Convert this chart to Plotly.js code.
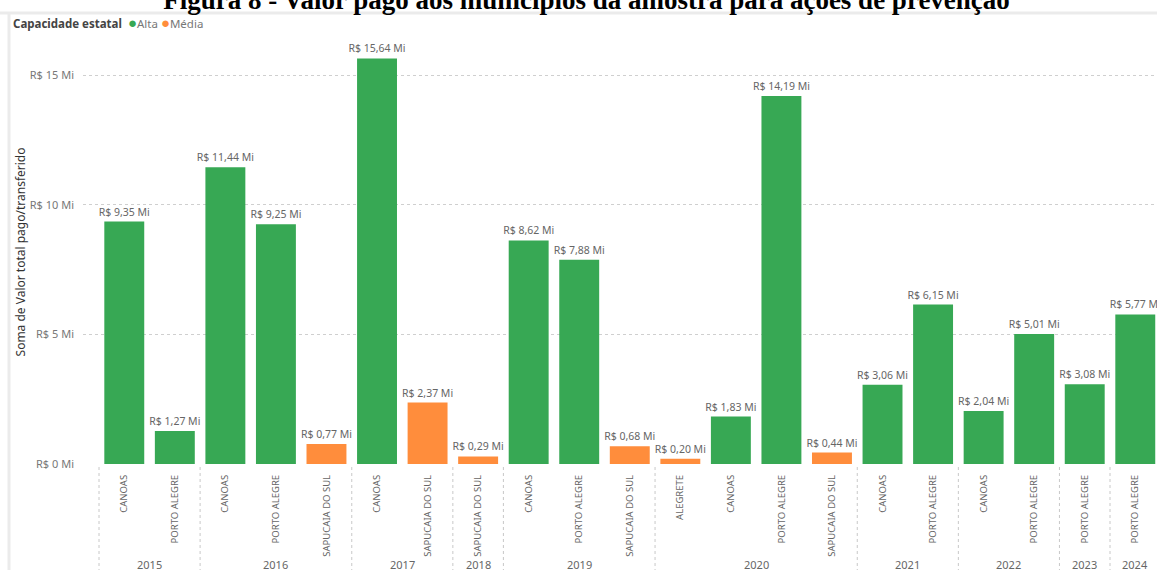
<!DOCTYPE html>
<html>
<head>
<meta charset="utf-8">
<script src="https://cdn.plot.ly/plotly-3.0.1.min.js"></script>
<style>
html,body{margin:0;padding:0;background:#fff;}
#chart{width:1157px;height:570px;}
</style>
</head>
<body>
<div id="chart"></div>
<script>
// ---- data ----
const years = ["2015","2015","2016","2016","2016","2017","2017","2018","2019","2019","2019","2020","2020","2020","2020","2021","2021","2022","2022","2023","2024"];
const cities = ["CANOAS","PORTO ALEGRE","CANOAS","PORTO ALEGRE","SAPUCAIA DO SUL","CANOAS","SAPUCAIA DO SUL","SAPUCAIA DO SUL","CANOAS","PORTO ALEGRE","SAPUCAIA DO SUL","ALEGRETE","CANOAS","PORTO ALEGRE","SAPUCAIA DO SUL","CANOAS","PORTO ALEGRE","CANOAS","PORTO ALEGRE","PORTO ALEGRE","PORTO ALEGRE"];
const values = [9.35,1.27,11.44,9.25,0.77,15.64,2.37,0.29,8.62,7.88,0.68,0.20,1.83,14.19,0.44,3.06,6.15,2.04,5.01,3.08,5.77];
const capacity = ["Alta","Alta","Alta","Alta","Média","Alta","Média","Média","Alta","Alta","Média","Média","Alta","Alta","Média","Alta","Alta","Alta","Alta","Alta","Alta"];
const capLevels = ["Alta","Média"];
const yTicks = [0,5,10,15];
const yTickText = ["R$ 0 Mi","R$ 5 Mi","R$ 10 Mi","R$ 15 Mi"];
const chartTitle = "Figura 8 - Valor pago aos municípios da amostra para ações de prevenção";
const yTitle = "Soma de Valor total pago/transferido";
const legendTitle = "Capacidade estatal";

// ---- style ----
const colors = {"Alta":"#37A854","Média":"#FF8D3C"};
const FONT = "'Segoe UI','Noto Sans',sans-serif";
const W = 1157, H = 570, ML = 83, MT = 40, MB = 106, MR = 0;
const plotH = H - MT - MB;
const fmt = v => "R$ " + v.toFixed(2).replace(".", ",") + " Mi";

const idx = values.map((v,i)=>i);
const traces = capLevels.map(c => {
  const ii = idx.filter(i => capacity[i] === c);
  return {
    type: "bar",
    name: c,
    x: ii,
    y: ii.map(i => values[i]),
    text: ii.map(i => fmt(values[i])),
    textposition: "outside",
    constraintext: "none",
    cliponaxis: false,
    textfont: {family: FONT, size: 10.5, color: "#666"},
    marker: {color: colors[c]},
    hoverinfo: "x+y",
    showlegend: false
  };
});

// year groups
const groups = [];
years.forEach((y,i) => {
  const g = groups[groups.length-1];
  if (g && g.year === y) g.end = i; else groups.push({year:y,start:i,end:i});
});

const shapes = [];
groups.forEach(g => {
  shapes.push({type:"line", xref:"x", yref:"paper", x0:g.start-0.5, x1:g.start-0.5,
    y0:-3/plotH, y1:-MB/plotH, line:{color:"#c8c8c8", width:1, dash:"dot"}});
});
// frame lines (visual card border)
shapes.push({type:"line", xref:"paper", yref:"paper", x0:(9-ML)/(W-ML), x1:(9-ML)/(W-ML),
  y0:1+(MT-12)/plotH, y1:-MB/plotH, line:{color:"#ebebeb", width:3}});
shapes.push({type:"line", xref:"paper", yref:"paper", x0:(0-ML)/(W-ML), x1:1,
  y0:1+(MT-13)/plotH, y1:1+(MT-13)/plotH, line:{color:"#ebebeb", width:3}});

const annotations = groups.map(g => ({
  xref:"x", yref:"paper", x:(g.start+g.end)/2, y:-(564-464)/plotH,
  text:g.year, showarrow:false, xanchor:"center", yanchor:"middle",
  font:{family:FONT, size:11, color:"#666"}
}));
annotations.push({
  xref:"paper", yref:"paper", x:(11-ML)/(W-ML), y:1+(MT-22)/plotH,
  xanchor:"left", yanchor:"middle", showarrow:false,
  text:"<b>"+legendTitle+"</b>  " + capLevels.map(c =>
    '<span style="color:'+colors[c]+';font-size:15px">●</span><span style="color:#777">'+c+'</span>').join(" "),
  font:{family:FONT, size:11.5, color:"#444"}
});

const pxPerUnit = 50.55;
const x0 = -0.5 - (99-ML)/pxPerUnit;
const x1 = x0 + (W-ML-MR)/pxPerUnit;

const layout = {
  width: W, height: H,
  margin: {l:ML, r:MR, t:MT, b:MB, pad:0},
  paper_bgcolor:"#fff", plot_bgcolor:"#fff",
  title: {text:"<b>"+chartTitle+"</b>", font:{family:"'Liberation Serif','Times New Roman',serif", size:27, color:"#000"},
    x:0.507, xanchor:"center", yref:"container", y:1-9/H, yanchor:"bottom"},
  barmode: "overlay",
  bargap: 0.21,
  showlegend: false,
  xaxis: {
    range:[x0,x1], tickmode:"array", tickvals:idx, ticktext:cities, tickangle:-90,
    showgrid:false, zeroline:false, showline:false, ticks:"", ticklabelstandoff:8,
    tickfont:{family:FONT, size:9.5, color:"#666"}, fixedrange:true
  },
  yaxis: {
    range:[0, plotH/25.93], tickmode:"array", tickvals:yTicks, ticktext:yTickText,
    showgrid:true, gridcolor:"#cfcfcf", griddash:"dot", gridwidth:1,
    zeroline:false, showline:false, ticks:"", ticklabelstandoff:8,
    tickfont:{family:FONT, size:11, color:"#777"},
    title:{text:yTitle, standoff:1, font:{family:FONT, size:12, color:"#333"}}
  },
  shapes: shapes,
  annotations: annotations
};

Plotly.newPlot("chart", traces, layout, {staticPlot:true, displayModeBar:false});
</script>
</body>
</html>
